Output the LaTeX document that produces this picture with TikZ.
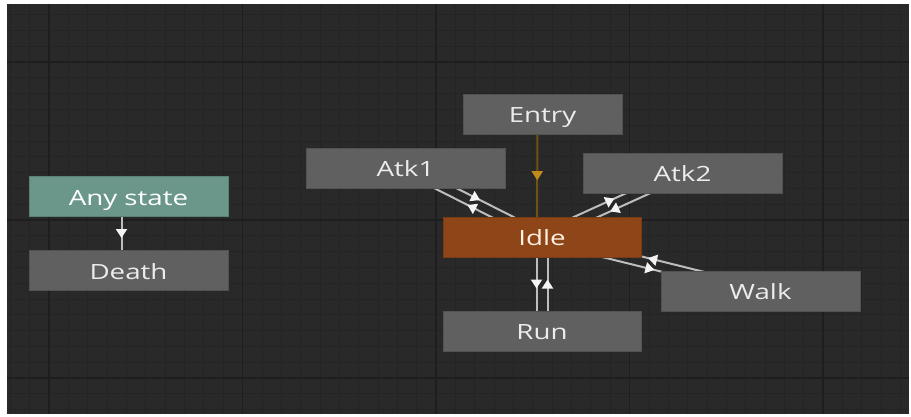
\documentclass[tikz,border=0pt]{standalone}
\usepackage{fontspec}
\setmainfont[FakeStretch=1.32]{Open Sans}
\usetikzlibrary{calc,arrows.meta,decorations.markings}
\pgfdeclarelayer{grid}
\pgfdeclarelayer{edges}
\pgfsetlayers{grid,edges,main}
\definecolor{bgc}{HTML}{292929}
\definecolor{minorc}{HTML}{242424}
\definecolor{majorc}{HTML}{1E1E1E}
\definecolor{boxc}{HTML}{606060}
\definecolor{anyc}{HTML}{6B978A}
\definecolor{idlec}{HTML}{8E4517}
\definecolor{linec}{HTML}{BDBDBD}
\definecolor{arrc}{HTML}{F4F4F4}
\definecolor{entryl}{HTML}{6E5214}
\definecolor{entrya}{HTML}{C08A1C}
\definecolor{txtc}{HTML}{ECECEC}
\tikzset{
  statebox/.style={rectangle, fill=boxc, draw=boxc!85!black, line width=0.6pt,
    minimum width=199pt, minimum height=40pt, inner sep=0pt, text=txtc,
    text height=17pt, text depth=0pt,
    font=\fontsize{21}{21}\selectfont},
  midarrow/.style={postaction={decorate, decoration={markings,
    mark=at position 0.5 with {\arrow[xshift=4.5pt,#1]{Triangle[width=11pt,length=9pt]}}}}},
  trans/.style={draw=linec, line width=2pt, midarrow={arrc}},
  minorline/.style={draw=minorc, line width=0.7pt},
  majorline/.style={draw=majorc, line width=1.3pt}
}
\begin{document}
\begin{tikzpicture}[x=1pt,y=-1pt]
\useasboundingbox (0,0) rectangle (911,417);
\begin{pgfonlayer}{grid}
\fill[white] (0,0) rectangle (911,417);
\fill[bgc] (7,4) rectangle (909,414);
\begin{scope}
\clip (7,4) rectangle (909,414);
\foreach \i in {-3,...,46} \draw[minorline] ({49+\i*19.35},4) -- ++(0,410);
\foreach \j in {-4,...,25} \draw[minorline] (7,{62+\j*15.8}) -- ++(902,0);
\foreach \i in {0,...,4} \draw[majorline] ({49+\i*193.5},4) -- ++(0,410);
\foreach \j in {0,1,2} \draw[majorline] (7,{62+\j*158}) -- ++(902,0);
\end{scope}
\end{pgfonlayer}

\node[statebox, fill=anyc, draw=anyc!85!black, text=white] (any) at (128.5,196.5) {Any state};
\node[statebox] (death) at (128.5,270.5) {Death};
\node[statebox, minimum width=159pt] (entry) at (542.5,114.5) {Entry};
\node[statebox] (atk1) at (405.5,168) {Atk1};
\node[statebox] (atk2) at (682.5,173) {Atk2};
\node[statebox, minimum width=198pt, fill=idlec, draw=idlec!85!black, text=white!88!orange] (idle) at (542,237) {Idle};
\node[statebox] (walk) at (760.5,291) {Walk};
\node[statebox, minimum width=198pt] (run) at (542,331) {Run};

\begin{pgfonlayer}{edges}
\draw[trans] ($(any.center)!7pt!-90:(death.center)$) -- ($(death.center)!7pt!90:(any.center)$);
\draw[draw=entryl, line width=2pt, midarrow={entrya}] ($(entry.center)!5pt!-90:(idle.center)$) -- ($(idle.center)!5pt!90:(entry.center)$);
% Atk1
\draw[trans] ($(idle.center)!5pt!90:(atk1.center)$) -- ($(atk1.center)!5pt!-90:(idle.center)$);
\draw[trans] ($(atk1.center)!5pt!90:(idle.center)$) -- ($(idle.center)!5pt!-90:(atk1.center)$);
% Atk2
\draw[trans] ($(idle.center)!5pt!90:(atk2.center)$) -- ($(atk2.center)!5pt!-90:(idle.center)$);
\draw[trans] ($(atk2.center)!5pt!90:(idle.center)$) -- ($(idle.center)!5pt!-90:(atk2.center)$);
% Run
\draw[trans] ($(idle.center)!5.5pt!-90:(run.center)$) -- ($(run.center)!5.5pt!90:(idle.center)$);
\draw[trans] ($(run.center)!5.5pt!-90:(idle.center)$) -- ($(idle.center)!5.5pt!90:(run.center)$);
% Walk
\draw[trans] ($(idle.center)!5pt!-90:(walk.center)$) -- ($(walk.center)!5pt!90:(idle.center)$);
\draw[trans] ($(walk.center)!5pt!-90:(idle.center)$) -- ($(idle.center)!5pt!90:(walk.center)$);
\end{pgfonlayer}
\end{tikzpicture}
\end{document}
